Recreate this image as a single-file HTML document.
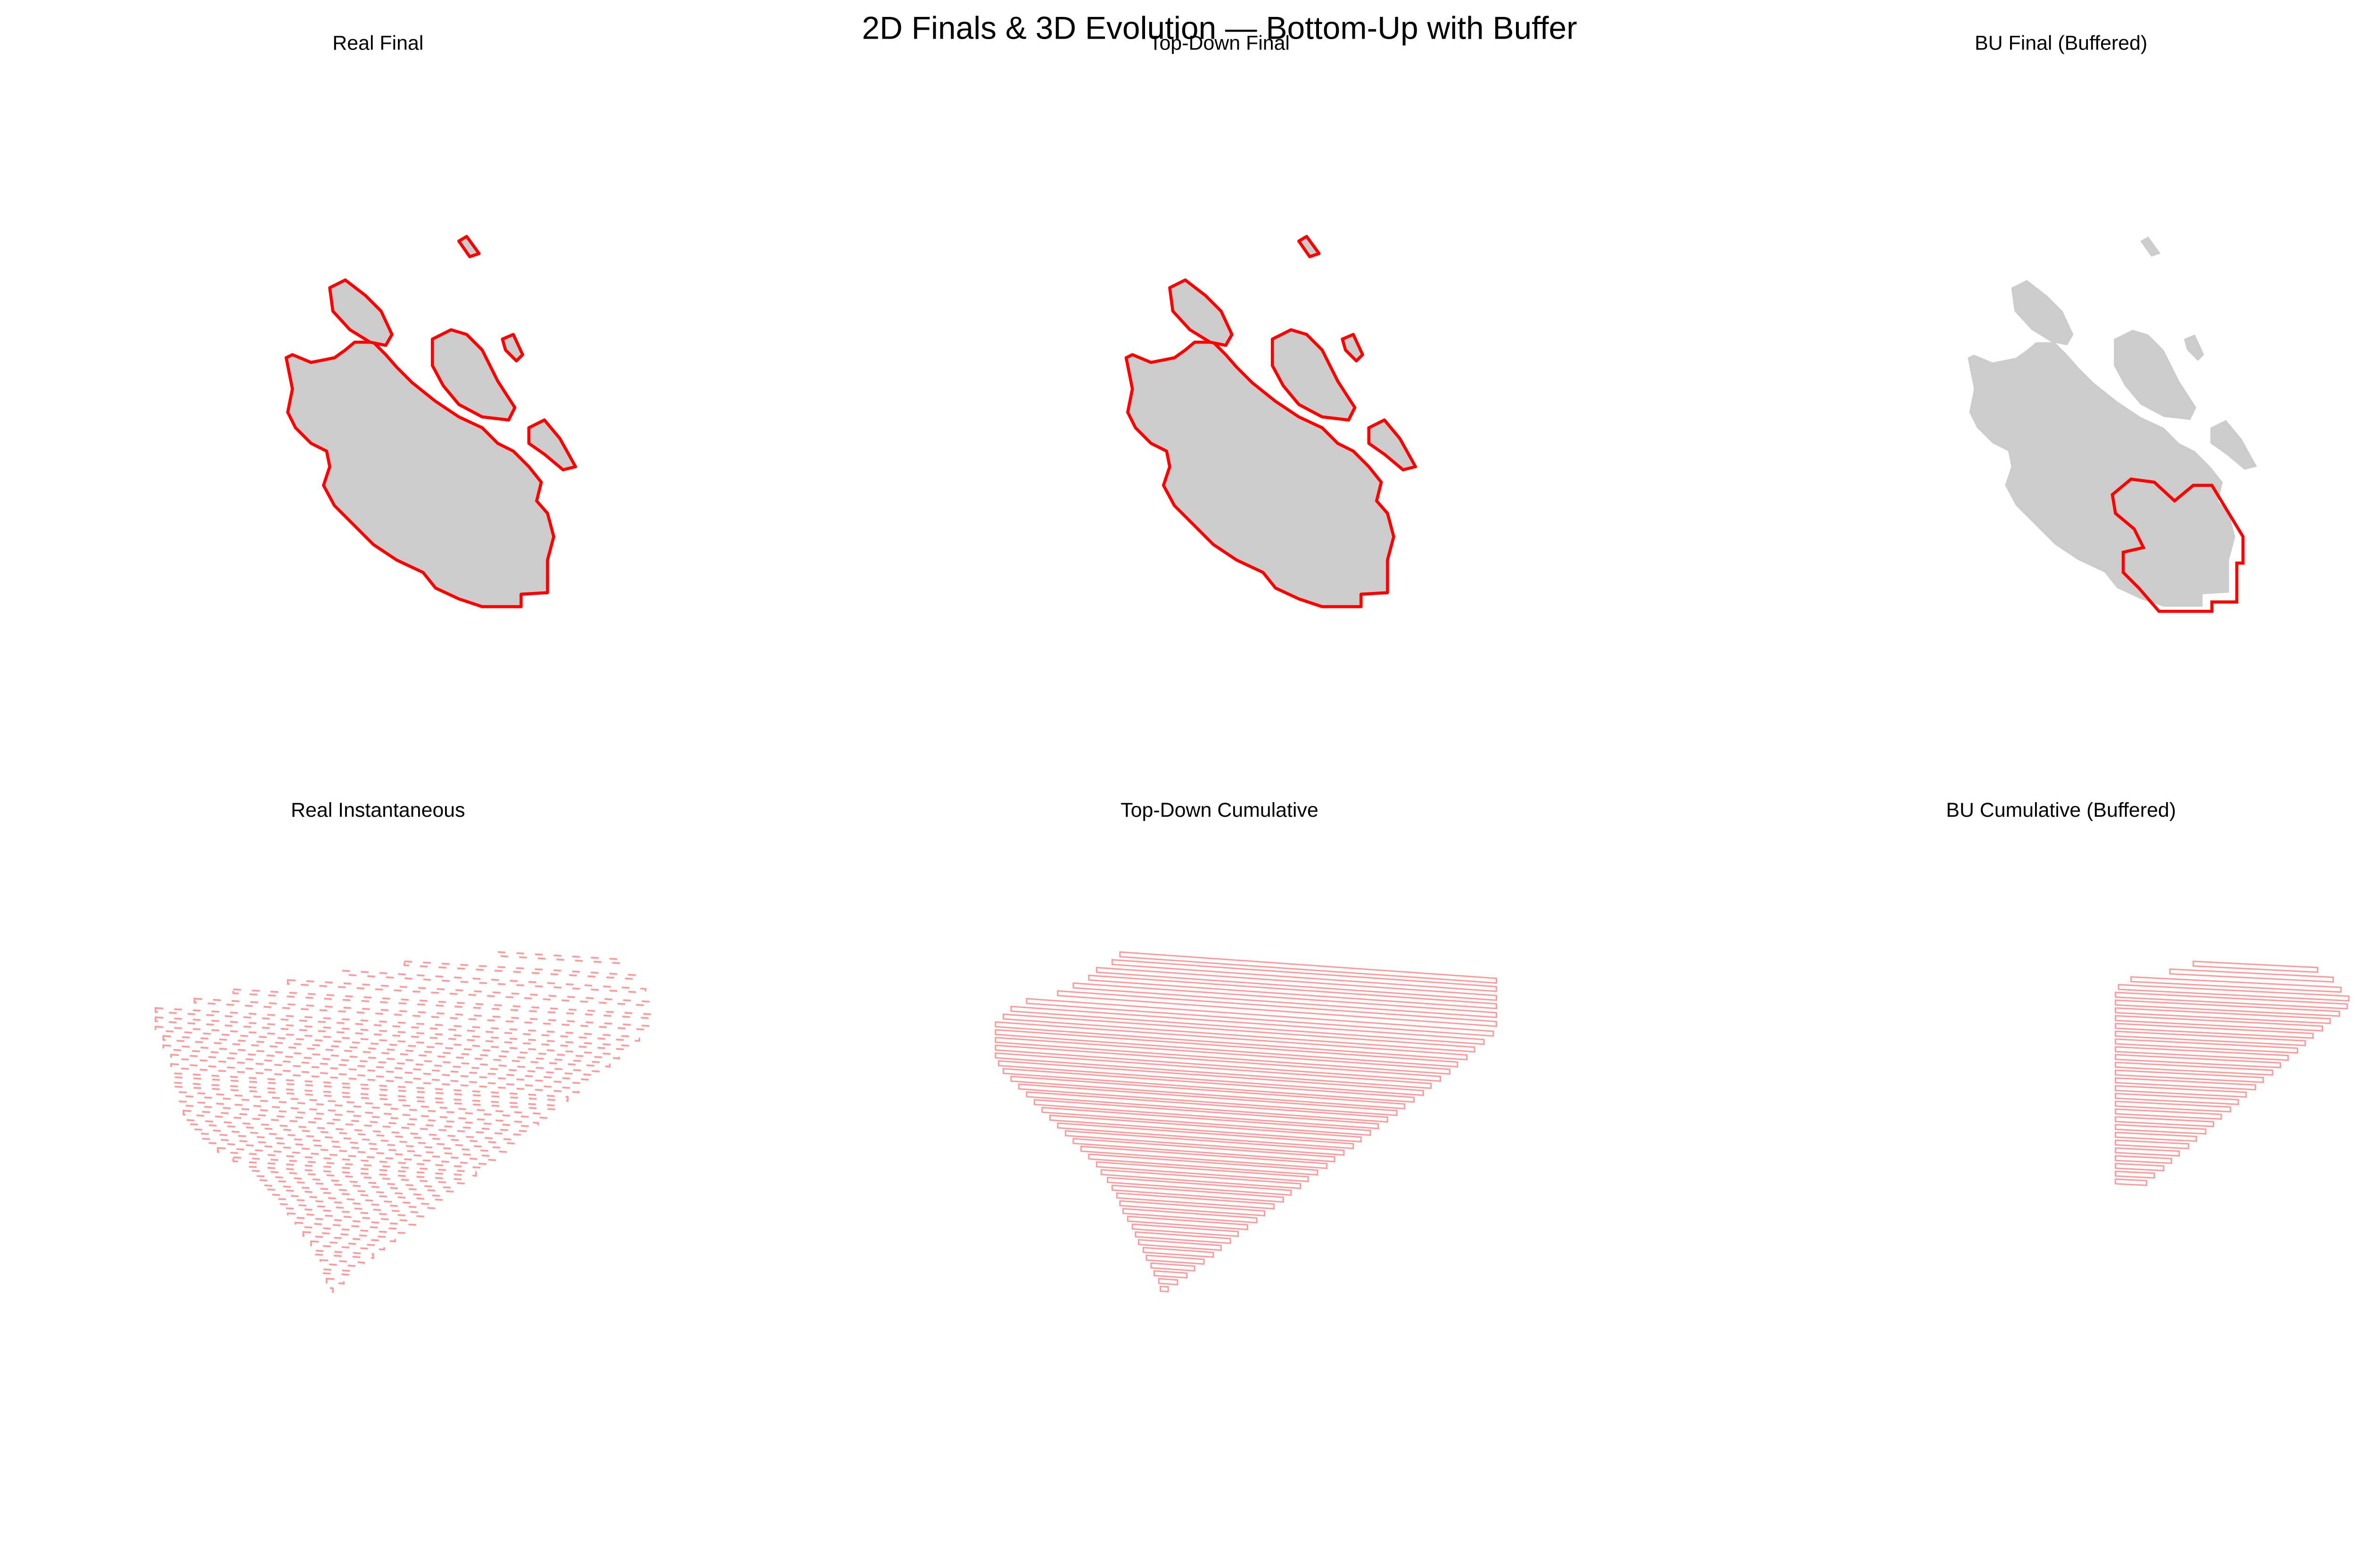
<!DOCTYPE html>
<html><head><meta charset="utf-8"><style>
html,body{margin:0;padding:0;background:#fff;}
svg{display:block;}
text{font-family:"Liberation Sans","DejaVu Sans",sans-serif;fill:#000;}
</style></head><body>
<svg id="fig" xmlns="http://www.w3.org/2000/svg" width="5174" height="3327" viewBox="0 0 1568 1008" preserveAspectRatio="none">
<rect width="1568" height="1008" fill="#fff"/>
<g id="shapes"></g>
<text x="784" y="25" font-size="20.5" text-anchor="middle">2D Finals &amp; 3D Evolution — Bottom-Up with Buffer</text>
<text x="243" y="32" font-size="13" text-anchor="middle">Real Final</text>
<text x="784" y="32" font-size="13" text-anchor="middle">Top-Down Final</text>
<text x="1325" y="32" font-size="13" text-anchor="middle">BU Final (Buffered)</text>
<text x="243" y="525" font-size="13" text-anchor="middle">Real Instantaneous</text>
<text x="784" y="525" font-size="13" text-anchor="middle">Top-Down Cumulative</text>
<text x="1325" y="525" font-size="13" text-anchor="middle">BU Cumulative (Buffered)</text>
</svg>
<script>
// Island outlines (panel-local coordinates)
const mainIsland=[[184,230],[188,228],[200,233],[215,230],[222,225],[228,220],[240,220],[248,228],[255,236],[265,246],[280,258],[295,268],[310,275],[320,285],[330,290],[340,300],[348,310],[345,322],[352,330],[356,345],[352,360],[352,381],[335,382],[335,390],[310,390],[295,385],[280,378],[272,368],[255,360],[240,350],[230,340],[215,325],[208,312],[212,300],[210,290],[200,285],[190,275],[185,265],[188,250]];
const islandB=[[212,185],[222,180],[235,190],[245,200],[252,215],[248,222],[238,220],[225,212],[214,200]];
const islandC=[[278,218],[290,212],[300,215],[310,225],[320,245],[331,262],[327,270],[310,268],[295,260],[285,248],[278,235]];
const islandD=[[340,275],[350,270],[360,282],[370,300],[362,302],[350,292],[340,285]];
const islandE=[[323,218],[330,215],[336,228],[332,232],[325,225]];
const islandF=[[295,155],[300,152],[308,163],[302,165]];
const islands=[mainIsland,islandB,islandC,islandD,islandE,islandF];
const buOutline=[[1358,318],[1370,308],[1385,310],[1398,322],[1410,312],[1422,312],[1442,345],[1442,362],[1438,362],[1438,387],[1422,387],[1422,393],[1388,393],[1375,378],[1365,368],[1365,355],[1378,352],[1372,340],[1360,330]];
const panelOffsets=[0,540,1081];
const panelRedOutline=[true,true,false];

// 3D stacks: per time-step layer, base y, left x, right x
const tdY=[612,617,622,627,632,637,642,647,652,657,662,667,672,677,682,687,692,697,702,707,712,717,722,727,732,737,742,747,752,757,762,767,772,777,782,787,792,797,802,807,812,817,822,827];
const tdL=[720,715,705,700,690,680,660,650,645,640,640,640,640,640,642,645,650,655,660,665,670,675,680,685,690,695,700,705,708,712,715,718,720,722,725,728,730,732,735,737,740,742,745,746];
const tdR=[962,962,962,962,962,962,960,954,948,943,937,932,926,920,915,909,903,898,892,886,881,875,870,864,858,853,847,841,836,830,825,819,813,808,802,796,791,785,780,774,768,763,757,751];
const riY=[612,618,624,630,636,642,648,654,660,666,672,678,684,690,696,702,708,714,720,726,732,738,744,750,756,762,768,774,780,786,792,798,804,810,816,822,828];
const riL=[320,260,220,185,150,125,100,100,100,105,105,110,110,112,112,115,115,118,120,125,130,140,150,160,165,170,175,180,185,190,195,200,203,206,208,210,212];
const riR=[400,410,415,418,420,418,411,405,398,392,385,378,372,365,359,352,346,339,332,326,319,313,306,300,293,286,280,273,267,260,254,247,240,234,227,221,214];
const buY=[618,623,628,633,638,643,648,653,658,663,668,673,678,683,688,693,698,703,708,713,718,723,728,733,738,743,748,753,758];
const buL=[1410,1395,1370,1362,1360,1360,1360,1360,1360,1360,1360,1360,1360,1360,1360,1360,1360,1360,1360,1360,1360,1360,1360,1360,1360,1360,1360,1360,1360];
const buR=[1490,1500,1505,1510,1509,1504,1498,1493,1487,1482,1477,1471,1466,1461,1455,1450,1444,1439,1434,1428,1423,1418,1412,1407,1401,1396,1391,1385,1380];

const svgNS="http://www.w3.org/2000/svg";
const g=document.getElementById('shapes');
function xs(v,off){return v+off;}
function ys(v,off){return v+off;}
function pts(arr,dx,dy){return arr.map(p=>xs(p[0],dx)+','+ys(p[1],dy)).join(' ');}

panelOffsets.forEach((off,pi)=>{
  islands.forEach((isl,ii)=>{
    const p=document.createElementNS(svgNS,'polygon');
    p.setAttribute('points',pts(isl,off,0));
    p.setAttribute('fill','#cccccc');
    p.setAttribute('stroke',panelRedOutline[pi]?'#ff0000':'none');
    p.setAttribute('stroke-width','2');
    p.setAttribute('stroke-linejoin','round');
    
    
    g.appendChild(p);
  });
});
{
  const p=document.createElementNS(svgNS,'polygon');
  p.setAttribute('points',pts(buOutline,0,0));
  p.setAttribute('fill','none');
  p.setAttribute('stroke','#ff0000');
  p.setAttribute('stroke-width','2');
  
  
  g.appendChild(p);
}

function drawStack(Y,L,R,slope,thick,dash,name,width){
  Y.forEach((y,i)=>{
    const l=L[i], r=R[i];
    const yr=y+slope*(r-l);
    const p=document.createElementNS(svgNS,'polygon');
    p.setAttribute('points',xs(l,0)+','+ys(y,0)+' '+xs(r,0)+','+ys(yr,0)+' '+xs(r,0)+','+ys(yr+thick,0)+' '+xs(l,0)+','+ys(y+thick,0));
    p.setAttribute('fill','none');
    p.setAttribute('stroke','#ff0000');
    p.setAttribute('stroke-opacity','0.4');
    p.setAttribute('stroke-width',width);
    if(dash) p.setAttribute('stroke-dasharray',dash);
    
    
    g.appendChild(p);
  });
}
drawStack(riY,riL,riR,0.06,2.5,'5 7','real-instantaneous-layer','1.1');
drawStack(tdY,tdL,tdR,0.07,3,null,'top-down-layer','0.9');
drawStack(buY,buL,buR,0.05,3,null,'bu-cumulative-layer','0.9');
</script>
</body></html>
